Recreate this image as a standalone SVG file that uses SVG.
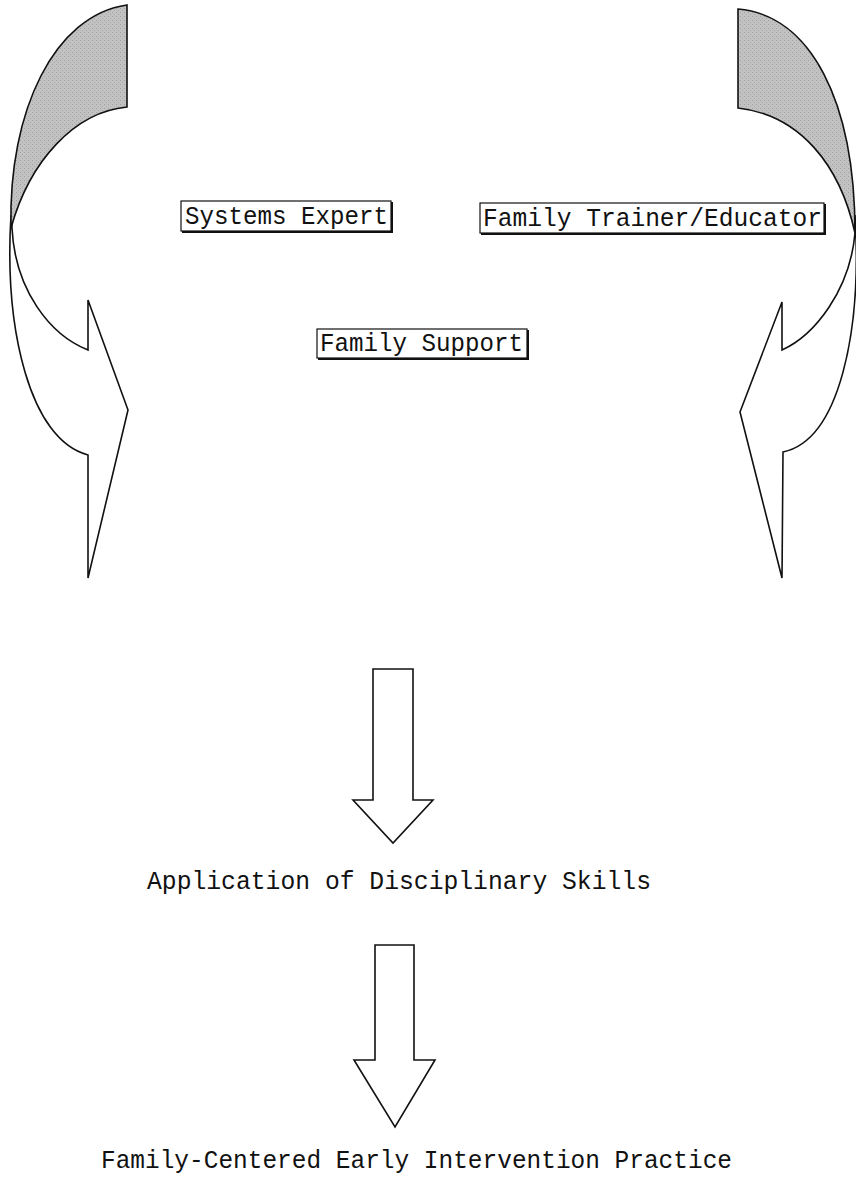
<svg xmlns="http://www.w3.org/2000/svg" width="856" height="1186" viewBox="0 0 856 1186">
<defs>
<pattern id="stip" width="4" height="4" patternUnits="userSpaceOnUse">
<rect width="4" height="4" fill="#c2c2c2"/>
<rect x="0" y="0" width="1" height="1" fill="#a0a0a0"/>
<rect x="2" y="2" width="1" height="1" fill="#a8a8a8"/>
</pattern>
</defs>
<style>
.o{fill:#fff;stroke:#111;stroke-width:1.6;stroke-linejoin:miter}
.s{fill:url(#stip);stroke:#111;stroke-width:1.6}
.box{fill:#fff;stroke:#111;stroke-width:1.2}
.sh{fill:none;stroke:#111;stroke-width:2}
.t{font-family:"Courier New","Liberation Mono",monospace;font-size:25px;fill:#111}
.b{font-size:26px}
</style>
<rect width="856" height="1186" fill="#fff"/>
<g id="connectors">
<g id="left-curve">
<path class="o" d="M11,215 C4,330 30,440 88,455 L88,578 L128,410 L88,300 L88,350 C50,335 15,290 12,228 Z"/>
<path class="s" d="M127,5 C55,15 8,110 11,228 C30,160 75,112 127,107 Z"/>
</g>
<g id="right-curve">
<path class="o" d="M855,215 C862,330 840,440 783,452 L782,578 L740,412 L782,302 L782,350 C815,335 850,290 855,233 Z"/>
<path class="s" d="M738,9 C810,15 855,100 855,233 C840,165 800,115 738,108 Z"/>
</g>
<path id="arrow1" class="o" d="M373,669 L413,669 L413,800 L433,800 L393,843 L353,800 L373,800 Z"/>
<path id="arrow2" class="o" d="M375,945 L414,945 L414,1060 L435,1060 L395,1127 L354,1060 L375,1060 Z"/>
</g>
<g id="systems-expert">
<rect class="box" x="181" y="201" width="210" height="30"/>
<polyline class="sh" points="182,232 392,232 392,202"/>
<text class="t" x="185" y="224" textLength="203" lengthAdjust="spacingAndGlyphs">Systems Expert</text>
</g>
<g id="family-trainer">
<rect class="box" x="480" y="203" width="344" height="30"/>
<polyline class="sh" points="481,234 825,234 825,204"/>
<text class="t" x="483" y="226" textLength="339" lengthAdjust="spacingAndGlyphs">Family Trainer/Educator</text>
</g>
<g id="family-support">
<rect class="box" x="317" y="329" width="210" height="29"/>
<polyline class="sh" points="318,359 528,359 528,330"/>
<text class="t" x="320" y="351" textLength="203" lengthAdjust="spacingAndGlyphs">Family Support</text>
</g>
<g id="application">
<text class="t b" x="147" y="889" textLength="504" lengthAdjust="spacingAndGlyphs">Application of Disciplinary Skills</text>
</g>
<g id="practice">
<text class="t b" x="101" y="1168" textLength="631" lengthAdjust="spacingAndGlyphs">Family-Centered Early Intervention Practice</text>
</g>
</svg>
